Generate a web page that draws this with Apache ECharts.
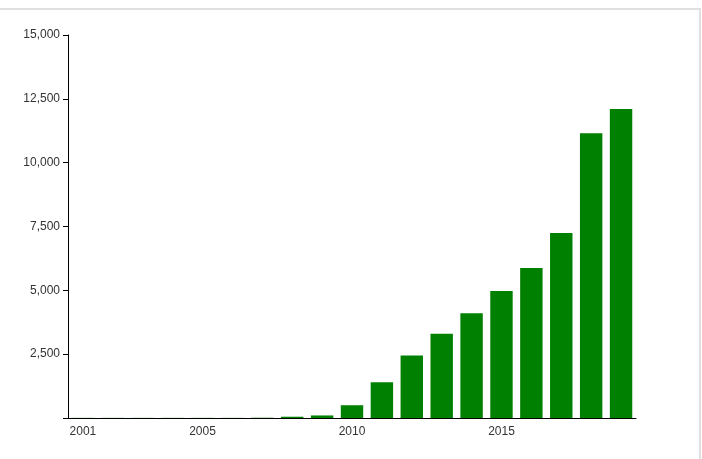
<!DOCTYPE html><html><head><meta charset="utf-8">
<script src="https://cdn.jsdelivr.net/npm/echarts@6/dist/echarts.min.js"></script>
<style>body{margin:0;background:#fff}#c{width:702px;height:459px}
#f{position:absolute;left:0;top:8px;width:699px;height:460px;border-top:2px solid #e0e0e0;border-right:2px solid #e0e0e0;pointer-events:none}</style></head>
<body><div id="c"></div><div id="f"></div><script>
const years=['2001','2002','2003','2004','2005','2006','2007','2008','2009','2010','2011','2012','2013','2014','2015','2016','2017','2018','2019'];
const values=[5,5,5,5,5,5,10,50,100,500,1400,2450,3300,4100,4970,5870,7250,11150,12100];
const shown=['2001','2005','2010','2015'];
const ch=echarts.init(document.getElementById('c'));
ch.setOption({animation:false,
grid:{left:68,right:66,top:35,bottom:41},
xAxis:{type:'category',data:years,axisLine:{lineStyle:{color:'#000'}},
 axisTick:{alignWithLabel:true,interval:(i,v)=>shown.includes(v),lineStyle:{color:'#000'}},
 axisLabel:{interval:(i,v)=>shown.includes(v),color:'#333',fontSize:12,fontFamily:'Arial'}},
yAxis:{type:'value',min:0,max:15000,interval:2500,splitLine:{show:false},
 axisLine:{show:true,lineStyle:{color:'#000'}},axisTick:{show:true,lineStyle:{color:'#000'}},
 axisLabel:{color:'#333',fontSize:12,fontFamily:'Arial',formatter:v=>v===0?'':v.toLocaleString('en-US')}},
series:[{type:'bar',data:values,barCategoryGap:'25%',itemStyle:{color:'#008000'}}]});
</script></body></html>
